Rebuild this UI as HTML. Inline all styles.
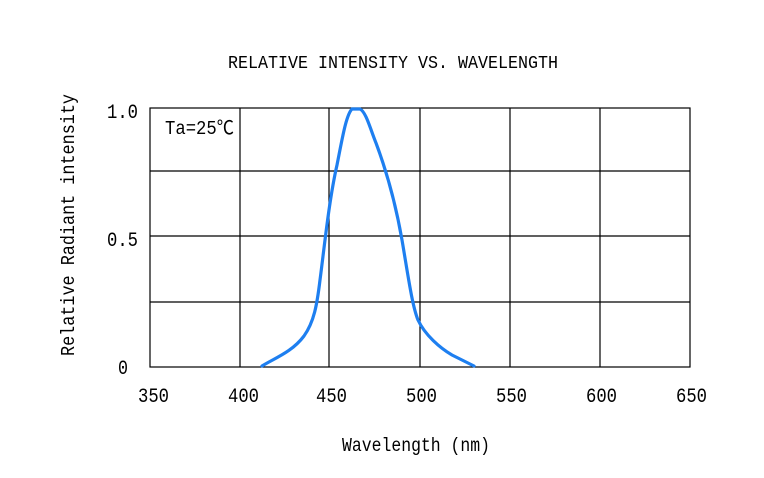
<!DOCTYPE html>
<html><head><style>
body{margin:0;background:#fff;}
svg text{font-family:"Liberation Mono","Noto Sans CJK JP",monospace;fill:#000;}
</style></head><body>
<svg width="764" height="473" xmlns="http://www.w3.org/2000/svg">
<rect width="764" height="473" fill="#fff"/>
<text x="228" y="68" font-size="18" textLength="330" lengthAdjust="spacingAndGlyphs">RELATIVE INTENSITY VS. WAVELENGTH</text>
<g stroke="#000" stroke-width="1.2" fill="none">
<rect x="150" y="108" width="540" height="259"/>
<line x1="240" y1="108" x2="240" y2="367"/><line x1="329" y1="108" x2="329" y2="367"/>
<line x1="420" y1="108" x2="420" y2="367"/><line x1="510" y1="108" x2="510" y2="367"/>
<line x1="600" y1="108" x2="600" y2="367"/>
<line x1="150" y1="171" x2="690" y2="171"/><line x1="150" y1="236" x2="690" y2="236"/>
<line x1="150" y1="302" x2="690" y2="302"/>
</g>
<path d="M262,366 C275,358 292,352 304,336 C314,322 317,305 320,280 C324,250 329,200 337,165 C342,140 346,115 352,109 L360,109 C366,112 370,128 376,143 C385,167 395,200 402,240 C408,275 412,305 418,320 C425,335 440,348 452,355 C462,360 470,364 474,366" fill="none" stroke="#1e7ff0" stroke-width="3.2" stroke-linecap="round"/>
<text x="165" y="134" font-size="19" textLength="69" lengthAdjust="spacingAndGlyphs">Ta=25℃</text>
<g font-size="20">
<text x="107" y="118" textLength="31" lengthAdjust="spacingAndGlyphs">1.0</text>
<text x="107" y="246" textLength="31" lengthAdjust="spacingAndGlyphs">0.5</text>
<text x="118" y="374" textLength="10" lengthAdjust="spacingAndGlyphs">0</text>
</g>
<g font-size="20">
<text x="138" y="402" textLength="31" lengthAdjust="spacingAndGlyphs">350</text>
<text x="228" y="402" textLength="31" lengthAdjust="spacingAndGlyphs">400</text>
<text x="316" y="402" textLength="31" lengthAdjust="spacingAndGlyphs">450</text>
<text x="406" y="402" textLength="31" lengthAdjust="spacingAndGlyphs">500</text>
<text x="496" y="402" textLength="31" lengthAdjust="spacingAndGlyphs">550</text>
<text x="586" y="402" textLength="31" lengthAdjust="spacingAndGlyphs">600</text>
<text x="676" y="402" textLength="31" lengthAdjust="spacingAndGlyphs">650</text>
</g>
<text x="342" y="451" font-size="19" textLength="148" lengthAdjust="spacingAndGlyphs">Wavelength (nm)</text>
<text transform="translate(74,356) rotate(-90)" font-size="19" textLength="262" lengthAdjust="spacingAndGlyphs">Relative Radiant intensity</text>
</svg>
</body></html>
